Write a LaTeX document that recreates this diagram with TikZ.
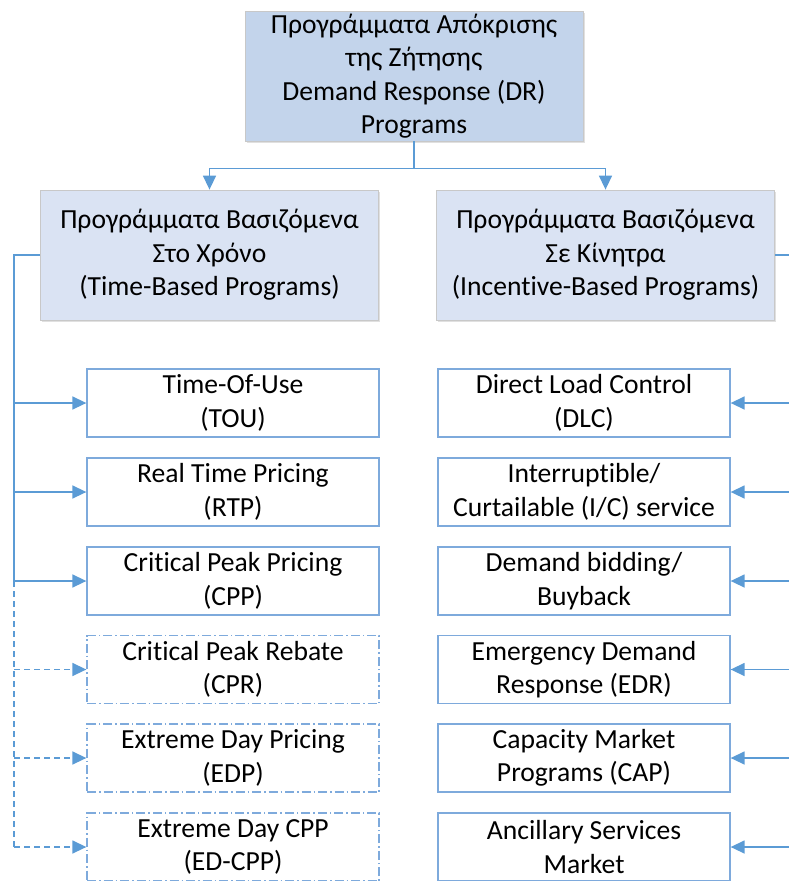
\documentclass[tikz,border=0pt]{standalone}
\usepackage{fontspec}
\setmainfont[Ligatures={NoCommon}]{Carlito}
\usetikzlibrary{arrows.meta,shadows}
\definecolor{lineblue}{RGB}{91,155,213}
\definecolor{boxblue}{RGB}{126,170,220}
\definecolor{topfill}{RGB}{195,212,235}
\definecolor{midfill}{RGB}{218,227,243}
\definecolor{grayline}{RGB}{200,200,200}
\tikzset{
  txt/.style={font=\fontsize{27.6}{33.4}\selectfont, align=center, inner sep=0pt, text=black},
  topbox/.style={txt, rectangle, fill=topfill, draw=grayline, line width=0.8pt, minimum width=338pt, minimum height=130pt,
    drop shadow={shadow xshift=1.5pt, shadow yshift=-1.5pt, fill=black, opacity=0.12}},
  midbox/.style={topbox, fill=midfill},
  smallbox/.style={txt, rectangle, draw=boxblue, line width=1.3pt, fill=white, minimum width=292pt, minimum height=68pt},
  optbox/.style={smallbox, dash pattern=on 9pt off 3pt on 1.5pt off 3pt},
  conn/.style={draw=lineblue, line width=1.5pt},
  arr/.style={conn, -{Triangle[length=14pt,width=13pt]}},
  darr/.style={arr, dash pattern=on 6pt off 4pt},
}
\begin{document}
\begin{tikzpicture}[x=1pt,y=-1pt]
\useasboundingbox (0,0) rectangle (789,881);
\clip (0,0) rectangle (789,881);
\node[topbox] (top) at (414,76) {Προγράμματα Απόκρισης\\της Ζήτησης\\Demand Response (DR)\\Programs};
\node[midbox] (tb) at (209.5,255) {Προγράμματα Βασιζόμενα\\Στο Χρόνο\\(Time-Based Programs)};
\node[midbox] (ib) at (605.5,255) {Προγράμματα Βασιζόμενα\\Σε Κίνητρα\\(Incentive-Based Programs)};
% left column
\node[smallbox] (tou) at (233,403) {Time-Of-Use\\(TOU)};
\node[smallbox] (rtp) at (233,492) {Real Time Pricing\\(RTP)};
\node[smallbox] (cpp) at (233,581) {Critical Peak Pricing\\(CPP)};
\node[optbox] (cpr) at (233,669.5) {Critical Peak Rebate\\(CPR)};
\node[optbox] (edp) at (233,758) {Extreme Day Pricing\\(EDP)};
\node[optbox] (edcpp) at (233,847) {Extreme Day CPP\\(ED-CPP)};
% right column
\node[smallbox] (dlc) at (584,403) {Direct Load Control\\(DLC)};
\node[smallbox] (ic) at (584,492) {Interruptible/\\Curtailable (I/C) service};
\node[smallbox] (db) at (584,581) {Demand bidding/\\Buyback};
\node[smallbox] (edr) at (584,669.5) {Emergency Demand\\Response (EDR)};
\node[smallbox] (cap) at (584,758) {Capacity Market\\Programs (CAP)};
\node[smallbox] (asm) at (584,847) {Ancillary Services\\Market};
% top connectors
\draw[conn] (top.south) -- ++(0,27) coordinate (j);
\draw[arr] (j) -| (tb.north);
\draw[arr] (j) -| (ib.north);
% left trunk
\coordinate (L) at (14,255);
\draw[conn] (tb.west) -- (L) -- (L |- cpp.west);
\draw[conn, dash pattern=on 6pt off 4pt] (L |- cpp.west) -- (L |- edcpp.west);
\draw[arr] (L |- tou.west) -- (tou.west);
\draw[arr] (L |- rtp.west) -- (rtp.west);
\draw[arr] (L |- cpp.west) -- (cpp.west);
\draw[darr] (L |- cpr.west) -- (cpr.west);
\draw[darr] (L |- edp.west) -- (edp.west);
\draw[darr] (L |- edcpp.west) -- (edcpp.west);
% right trunk
\coordinate (R) at (795,255);
\draw[conn] (ib.east) -- (R) -- (R |- asm.east);
\draw[arr] (R |- dlc.east) -- (dlc.east);
\draw[arr] (R |- ic.east) -- (ic.east);
\draw[arr] (R |- db.east) -- (db.east);
\draw[arr] (R |- edr.east) -- (edr.east);
\draw[arr] (R |- cap.east) -- (cap.east);
\draw[arr] (R |- asm.east) -- (asm.east);
\end{tikzpicture}
\end{document}
